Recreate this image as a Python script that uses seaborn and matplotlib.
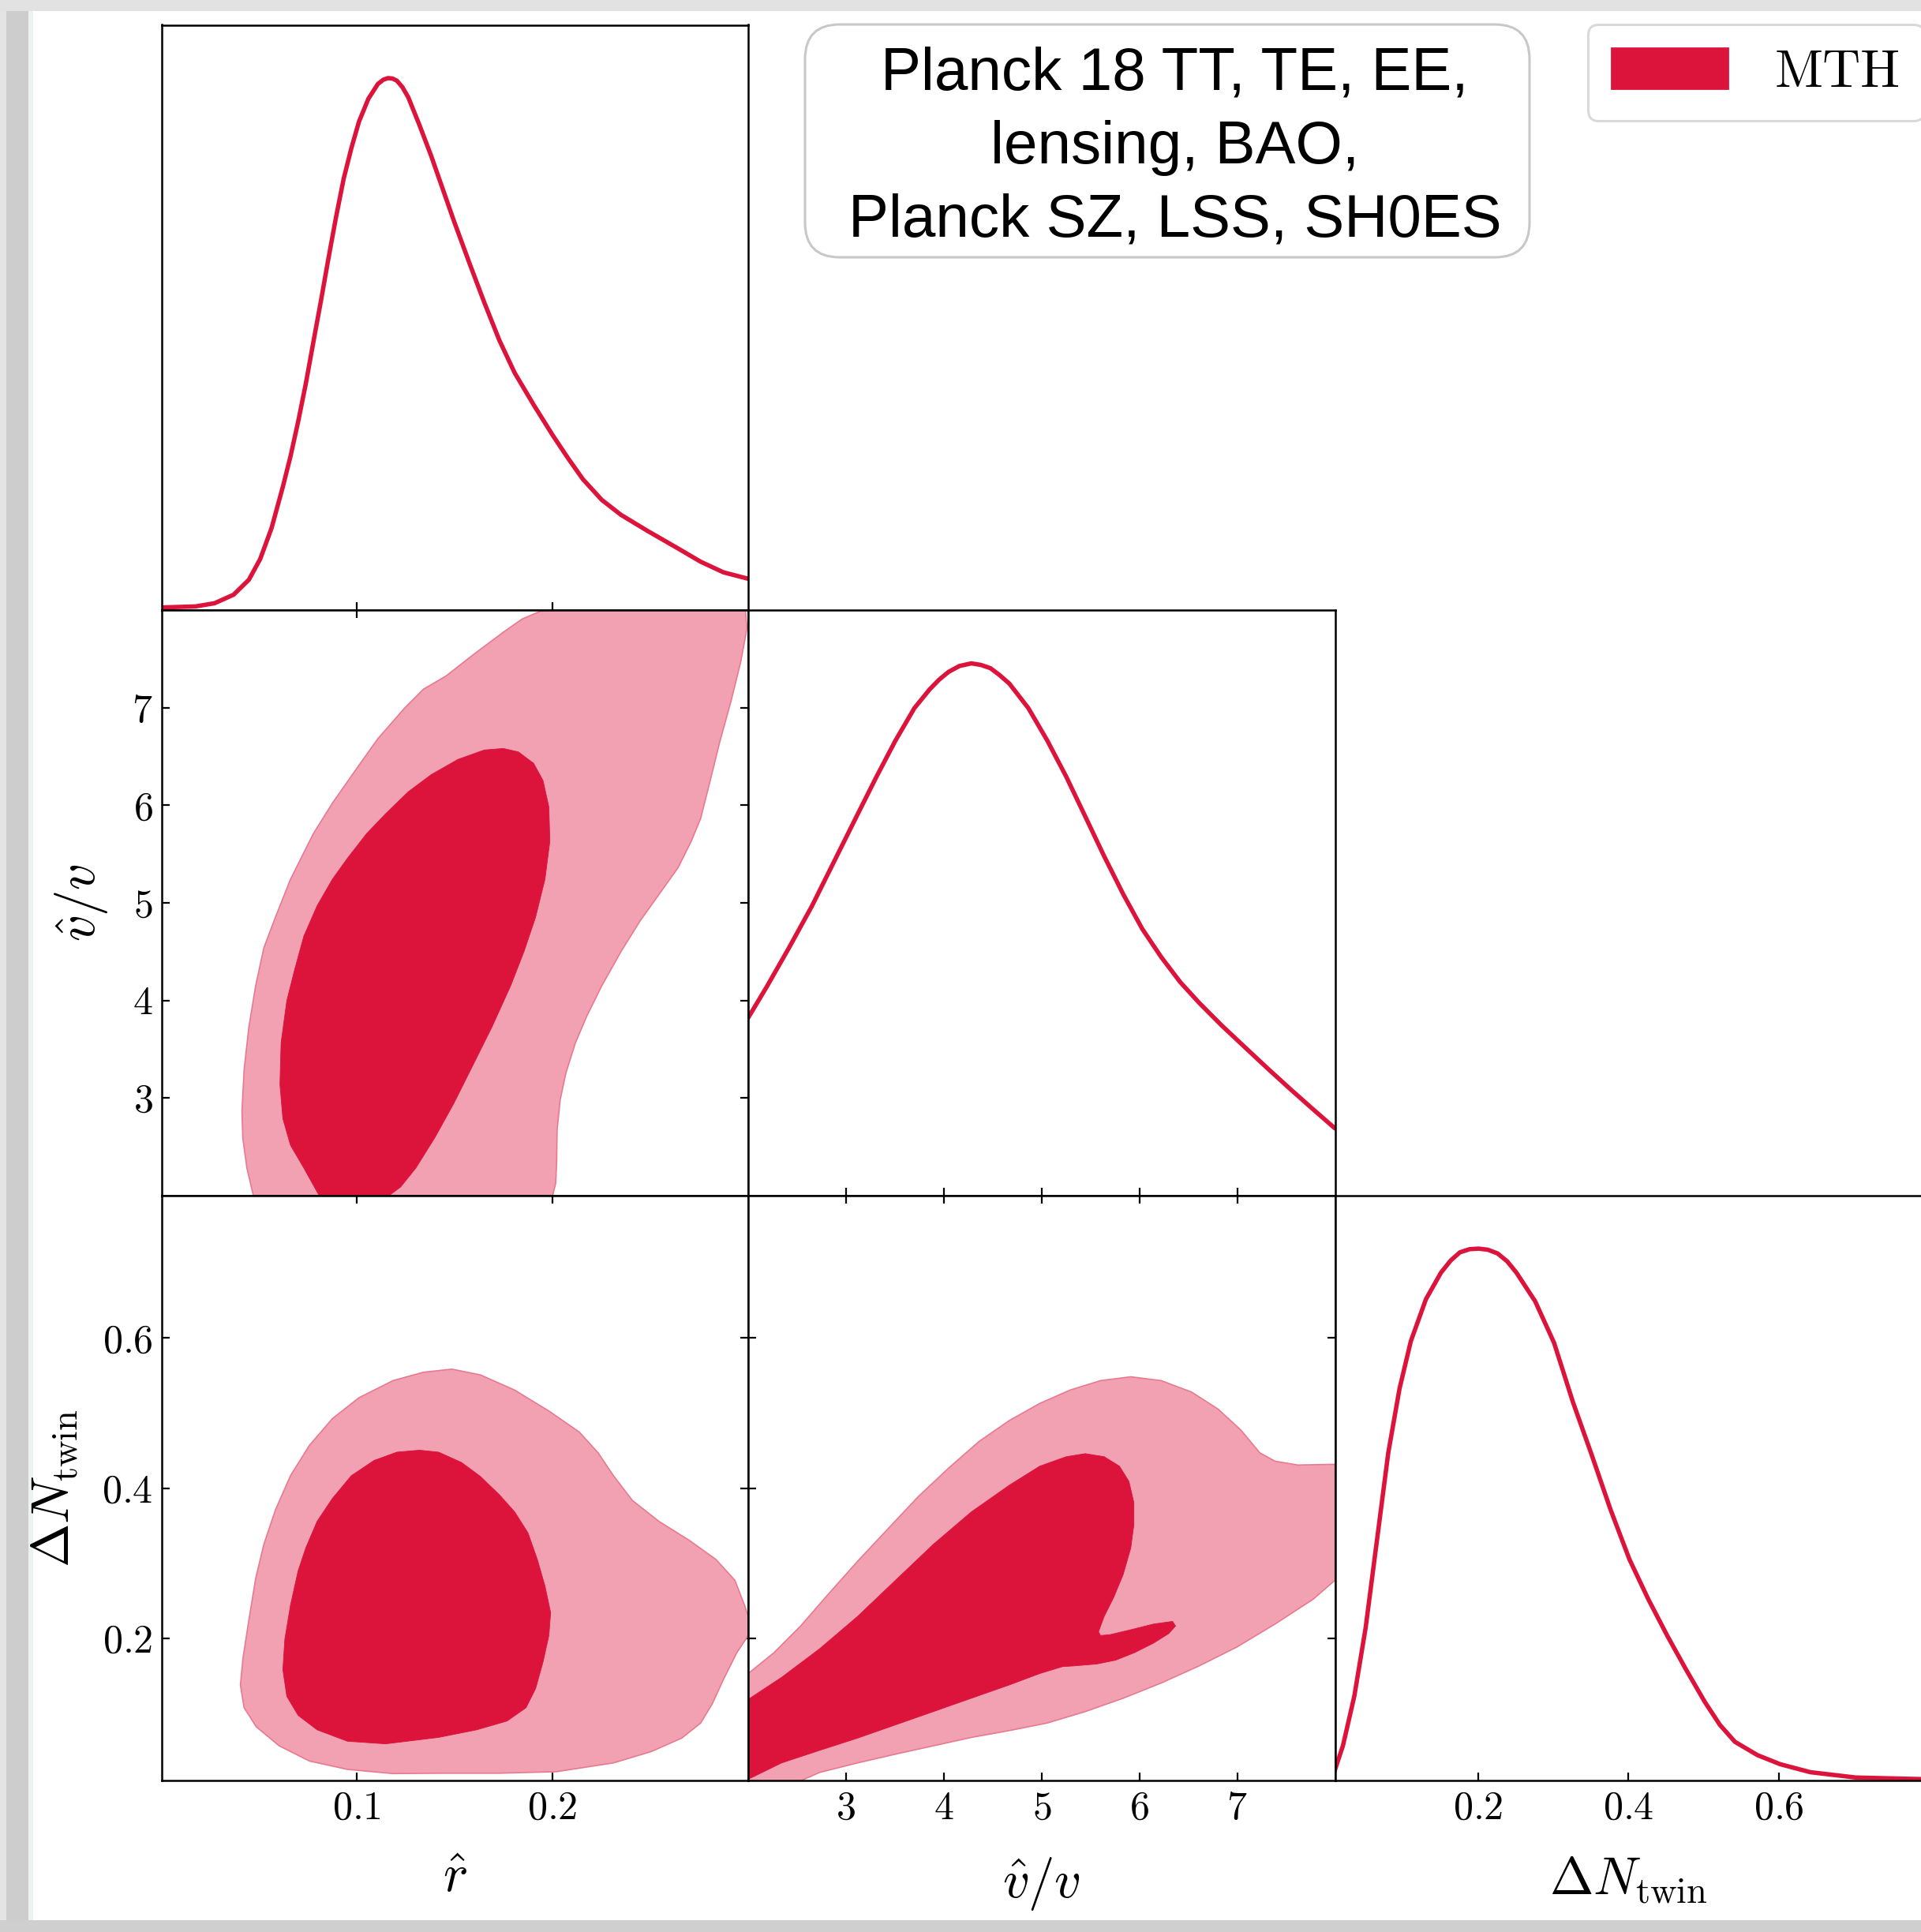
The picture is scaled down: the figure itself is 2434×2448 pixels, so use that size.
import numpy as np
import pandas as pd
import matplotlib
matplotlib.use("Agg")
import matplotlib.pyplot as plt
import seaborn as sns
from matplotlib.patches import FancyBboxPatch, Rectangle, Patch

# ---------------- data ----------------
# 1D marginal of r-hat
r_1d_x = [0.0, 0.0175, 0.0272, 0.0369, 0.0447, 0.0505, 0.0563, 0.0621, 0.0660, 0.0699,
          0.0738, 0.0777, 0.0816, 0.0854, 0.0893, 0.0932, 0.0971, 0.1010, 0.1058, 0.1107,
          0.1135, 0.1159, 0.1182, 0.1204, 0.1232, 0.1262, 0.1320, 0.1379, 0.1437, 0.1495,
          0.1573, 0.1650, 0.1728, 0.1806, 0.1903, 0.2000, 0.2078, 0.2155, 0.2252, 0.2350,
          0.2485, 0.2641, 0.2757, 0.2874, 0.3000]
r_1d_p = [0.005, 0.007, 0.013, 0.029, 0.057, 0.096, 0.154, 0.232, 0.289, 0.354,
          0.425, 0.504, 0.582, 0.661, 0.739, 0.811, 0.868, 0.918, 0.961, 0.989,
          0.997, 1.000, 0.999, 0.995, 0.983, 0.964, 0.911, 0.854, 0.793, 0.732,
          0.654, 0.579, 0.507, 0.446, 0.386, 0.329, 0.286, 0.246, 0.207, 0.179,
          0.149, 0.116, 0.091, 0.071, 0.059]

# 1D marginal of v-hat/v
v_1d_x = [2.000, 2.186, 2.419, 2.652, 2.885, 3.118, 3.312, 3.506, 3.700, 3.855,
          3.950, 4.049, 4.160, 4.282, 4.380, 4.476, 4.570, 4.670, 4.864, 5.058,
          5.252, 5.447, 5.641, 5.835, 6.029, 6.223, 6.417, 6.611, 6.844, 7.076,
          7.309, 7.542, 7.775, 8.000]
v_1d_p = [0.334, 0.391, 0.466, 0.544, 0.630, 0.716, 0.787, 0.855, 0.916, 0.951,
          0.969, 0.984, 0.995, 1.000, 0.997, 0.991, 0.978, 0.962, 0.916, 0.855,
          0.787, 0.712, 0.637, 0.566, 0.501, 0.448, 0.401, 0.362, 0.319, 0.279,
          0.239, 0.200, 0.162, 0.126]

# 1D marginal of Delta N_twin
n_1d_x = [0.0096, 0.0206, 0.0357, 0.0507, 0.0657, 0.0808, 0.0958, 0.1108, 0.1309, 0.1509,
          0.1640, 0.1760, 0.1890, 0.2010, 0.2130, 0.2261, 0.2390, 0.2511, 0.2761, 0.3012,
          0.3262, 0.3513, 0.3764, 0.4014, 0.4265, 0.4515, 0.4766, 0.5016, 0.5216, 0.5417,
          0.5717, 0.6018, 0.6419, 0.7020, 0.7900]
n_1d_p = [0.019, 0.066, 0.159, 0.287, 0.451, 0.616, 0.737, 0.826, 0.905, 0.955,
          0.978, 0.993, 0.999, 1.000, 0.998, 0.991, 0.976, 0.955, 0.901, 0.823,
          0.712, 0.612, 0.509, 0.416, 0.341, 0.273, 0.209, 0.148, 0.105, 0.073,
          0.048, 0.031, 0.016, 0.006, 0.003]

# 2D r-hat vs v-hat/v : 95% (outer) and 68% (inner) regions
rv_outer_r = [0.0470, 0.0437, 0.0416, 0.0412, 0.0423, 0.0447, 0.0482, 0.0524, 0.0583, 0.0660,
              0.0728, 0.0777, 0.0874, 0.1010, 0.1107, 0.1243, 0.1340, 0.1456, 0.1592, 0.1748,
              0.1845, 0.1942, 0.1980, 0.2986, 0.2994, 0.2961, 0.2913, 0.2854, 0.2806, 0.2757,
              0.2709, 0.2641, 0.2544, 0.2447, 0.2350, 0.2252, 0.2175, 0.2117, 0.2068, 0.2039,
              0.2023, 0.2021, 0.2016, 0.2000]
rv_outer_v = [2.000, 2.281, 2.592, 2.865, 3.293, 3.722, 4.151, 4.540, 4.852, 5.241,
              5.514, 5.709, 6.021, 6.410, 6.683, 6.995, 7.190, 7.326, 7.540, 7.774,
              7.910, 7.992, 8.000, 8.000, 7.813, 7.462, 7.073, 6.644, 6.254, 5.865,
              5.631, 5.358, 5.086, 4.813, 4.501, 4.151, 3.839, 3.566, 3.255, 2.982,
              2.670, 2.358, 2.125, 2.000]
rv_inner_r = [0.0806, 0.0728, 0.0660, 0.0621, 0.0606, 0.0612, 0.0641, 0.0680, 0.0728, 0.0796,
              0.0874, 0.0951, 0.1049, 0.1146, 0.1262, 0.1379, 0.1515, 0.1650, 0.1748, 0.1825,
              0.1903, 0.1951, 0.1981, 0.1986, 0.1961, 0.1913, 0.1854, 0.1786, 0.1689, 0.1592,
              0.1495, 0.1398, 0.1301, 0.1223, 0.1165]
rv_inner_v = [2.000, 2.281, 2.514, 2.787, 3.138, 3.566, 3.995, 4.306, 4.657, 4.969,
              5.241, 5.456, 5.709, 5.912, 6.138, 6.313, 6.469, 6.566, 6.582, 6.547,
              6.430, 6.254, 5.982, 5.631, 5.241, 4.852, 4.501, 4.151, 3.722, 3.332,
              2.943, 2.592, 2.281, 2.086, 2.000]

# 2D r-hat vs Delta N_twin
rn_outer_r = [0.0404, 0.0417, 0.0447, 0.0482, 0.0524, 0.0583, 0.0660, 0.0757, 0.0874, 0.1010,
              0.1184, 0.1340, 0.1485, 0.1631, 0.1806, 0.1981, 0.2136, 0.2233, 0.2311, 0.2408,
              0.2544, 0.2699, 0.2835, 0.2932, 0.2981, 0.3000, 0.3000, 0.2942, 0.2874, 0.2816,
              0.2757, 0.2660, 0.2505, 0.2311, 0.2019, 0.1728, 0.1437, 0.1184, 0.0951, 0.0757,
              0.0602, 0.0485, 0.0423]
rn_outer_n = [0.1376, 0.1731, 0.2238, 0.2796, 0.3252, 0.3709, 0.4165, 0.4570, 0.4925, 0.5204,
              0.5432, 0.5544, 0.5585, 0.5508, 0.5306, 0.5027, 0.4748, 0.4469, 0.4165, 0.3835,
              0.3556, 0.3303, 0.3049, 0.2771, 0.2441, 0.2290, 0.2035, 0.1807, 0.1452, 0.1123,
              0.0869, 0.0667, 0.0489, 0.0337, 0.0220, 0.0200, 0.0200, 0.0195, 0.0251, 0.0362,
              0.0565, 0.0819, 0.1072]
rn_inner_r = [0.0621, 0.0631, 0.0660, 0.0699, 0.0738, 0.0796, 0.0874, 0.0971, 0.1087, 0.1204,
              0.1320, 0.1417, 0.1534, 0.1631, 0.1728, 0.1806, 0.1874, 0.1922, 0.1961, 0.1990,
              0.1981, 0.1951, 0.1913, 0.1864, 0.1767, 0.1612, 0.1417, 0.1146, 0.0951, 0.0796,
              0.0699, 0.0641]
rn_inner_n = [0.1579, 0.1985, 0.2441, 0.2897, 0.3202, 0.3556, 0.3861, 0.4165, 0.4368, 0.4479,
              0.4505, 0.4479, 0.4342, 0.4155, 0.3911, 0.3683, 0.3404, 0.3049, 0.2695, 0.2340,
              0.2035, 0.1681, 0.1326, 0.1072, 0.0895, 0.0778, 0.0677, 0.0591, 0.0626, 0.0778,
              0.0971, 0.1224]

# 2D v-hat/v vs Delta N_twin
vn_outer_v = [2.000, 2.264, 2.536, 2.807, 3.118, 3.428, 3.739, 4.049, 4.360, 4.670,
              4.981, 5.291, 5.602, 5.912, 6.223, 6.533, 6.805, 7.038, 7.232, 7.387,
              7.620, 8.000, 8.000, 7.775, 7.387, 6.999, 6.611, 6.223, 5.834, 5.446,
              5.058, 4.670, 4.282, 3.894, 3.506, 3.118, 2.730, 2.536, 2.000]
vn_outer_n = [0.1528, 0.1807, 0.2162, 0.2568, 0.3024, 0.3455, 0.3886, 0.4266, 0.4621, 0.4900,
              0.5128, 0.5306, 0.5432, 0.5483, 0.5432, 0.5280, 0.5052, 0.4773, 0.4469, 0.4358,
              0.4307, 0.4317, 0.2771, 0.2517, 0.2188, 0.1883, 0.1630, 0.1402, 0.1199, 0.1021,
              0.0869, 0.0768, 0.0677, 0.0565, 0.0454, 0.0337, 0.0210, 0.0099, 0.0099]
vn_inner_v = [2.000, 2.342, 2.730, 3.118, 3.506, 3.894, 4.282, 4.670, 4.981, 5.252,
              5.446, 5.640, 5.796, 5.893, 5.943, 5.943, 5.912, 5.834, 5.737, 5.640,
              5.582, 5.602, 5.699, 5.912, 6.145, 6.339, 6.370, 6.300, 6.145, 5.951,
              5.757, 5.563, 5.330, 5.213, 4.981, 4.670, 4.282, 3.894, 3.506, 3.118,
              2.730, 2.342, 2.000]
vn_inner_n = [0.1184, 0.1478, 0.1858, 0.2289, 0.2771, 0.3252, 0.3683, 0.4038, 0.4292, 0.4418,
              0.4459, 0.4418, 0.4292, 0.4089, 0.3810, 0.3506, 0.3202, 0.2847, 0.2542, 0.2289,
              0.2086, 0.2035, 0.2046, 0.2112, 0.2188, 0.2223, 0.2162, 0.2061, 0.1934, 0.1807,
              0.1706, 0.1655, 0.1630, 0.1620, 0.1528, 0.1376, 0.1199, 0.1021, 0.0844, 0.0667,
              0.0504, 0.0337, 0.0119]

param_labels = [r"$\hat{r}$", r"$\hat{v}/v$", r"$\Delta N_{\rm twin}$"]
param_limits = [(0.0, 0.3), (2.0, 8.0), (0.01, 0.79)]
param_ticks = [[0.1, 0.2], [3, 4, 5, 6, 7], [0.2, 0.4, 0.6]]
param_ticklabels = [[r"$0.1$", r"$0.2$"],
                    [r"$3$", r"$4$", r"$5$", r"$6$", r"$7$"],
                    [r"$0.2$", r"$0.4$", r"$0.6$"]]
legend_label = "MTH"
data_text = "Planck 18 TT, TE, EE,\nlensing, BAO,\nPlanck SZ, LSS, SH0ES"

# ---------------- style ----------------
sns.set_style("ticks")
plt.rcParams.update({
    "font.family": "serif",
    "font.serif": ["cmr10", "DejaVu Serif"],
    "mathtext.fontset": "cm",
    "axes.unicode_minus": False,
    "axes.linewidth": 0.9,
    "axes.edgecolor": "black",
    "axes.labelcolor": "black",
    "text.color": "black",
    "xtick.color": "black",
    "ytick.color": "black",
    "axes.formatter.use_mathtext": True,
})

CRIMSON = "#DC143C"
LIGHT = "#F1A1B1"
LIGHT_EDGE = "#E87A90"

W, H, DPI = 2434, 2448, 200
fig = plt.figure(figsize=(W / DPI, H / DPI), dpi=DPI, facecolor="white")

# screenshot-like border
fig.patches.append(Rectangle((0, 0), 8 / W, 1, transform=fig.transFigure,
                             facecolor="#e4e4e4", edgecolor="none", zorder=-10))
fig.patches.append(Rectangle((8 / W, 0), 28 / W, 1, transform=fig.transFigure,
                             facecolor="#cdcdcd", edgecolor="none", zorder=-10))
fig.patches.append(Rectangle((36 / W, 0), 6 / W, 1, transform=fig.transFigure,
                             facecolor="#eef1f1", edgecolor="none", zorder=-9))
fig.patches.append(Rectangle((0, 1 - 14 / H), 1, 14 / H, transform=fig.transFigure,
                             facecolor="#e2e2e2", edgecolor="none", zorder=-9))
fig.patches.append(Rectangle((0, 0), 1, 15 / H, transform=fig.transFigure,
                             facecolor="#cfcfcf", edgecolor="none", zorder=-9))

LEFT, COLW = 204.5, 743.5
TOP, ROWH = 31.5, 741.6


def make_ax(r, c):
    x0 = (LEFT + c * COLW) / W
    y0 = 1 - (TOP + (r + 1) * ROWH) / H
    return fig.add_axes([x0, y0, COLW / W, ROWH / H])


TICK_FS = 18
LABEL_FS = 24

one_d = [(r_1d_x, r_1d_p), (v_1d_x, v_1d_p), (n_1d_x, n_1d_p)]
two_d = {
    (1, 0): [(rv_outer_r, rv_outer_v), (rv_inner_r, rv_inner_v)],
    (2, 0): [(rn_outer_r, rn_outer_n), (rn_inner_r, rn_inner_n)],
    (2, 1): [(vn_outer_v, vn_outer_n), (vn_inner_v, vn_inner_n)],
}

for i in range(3):
    for j in range(i + 1):
        ax = make_ax(i, j)
        ax.set_facecolor("white")
        for s in ax.spines.values():
            s.set_linewidth(0.9)
            s.set_color("black")
        if i == j:
            df = pd.DataFrame({"x": one_d[i][0], "p": one_d[i][1]})
            sns.lineplot(data=df, x="x", y="p", ax=ax, color=CRIMSON, lw=2.0,
                         solid_joinstyle="round", solid_capstyle="round")
            ax.set_xlim(*param_limits[i])
            ax.set_ylim(0, 1.1)
            ax.set_yticks([])
            ax.set_xticks(param_ticks[i])
            ax.tick_params(axis="x", direction="in", length=3.5, width=0.8,
                           top=False, bottom=True, labelsize=TICK_FS, pad=4.5)
            ax.tick_params(axis="y", left=False, right=False)
        else:
            (ox, oy), (ix, iy) = two_d[(i, j)]
            ax.fill(ox, oy, facecolor=LIGHT, edgecolor=LIGHT_EDGE, lw=0.6, zorder=1)
            ax.fill(ix, iy, facecolor=CRIMSON, edgecolor=CRIMSON, lw=0.3, zorder=2)
            ax.set_xlim(*param_limits[j])
            ax.set_ylim(*param_limits[i])
            ax.set_xticks(param_ticks[j])
            ax.set_yticks(param_ticks[i])
            ax.tick_params(axis="both", direction="in", length=3.5, width=0.8,
                           top=True, right=True, bottom=True, left=True,
                           labelsize=TICK_FS)
            ax.tick_params(axis="x", pad=4.5)
            ax.tick_params(axis="y", pad=4)
        ax.set_xlabel("")
        ax.set_ylabel("")
        if i == 2:
            ax.set_xticklabels(param_ticklabels[j])
            ax.set_xlabel(param_labels[j], fontsize=LABEL_FS, labelpad=13)
        else:
            ax.set_xticklabels([])
        if j == 0 and i > 0:
            ax.set_yticklabels(param_ticklabels[i])
            ax.set_ylabel(param_labels[i], fontsize=LABEL_FS, labelpad=10)
        elif i != j:
            ax.set_yticklabels([])

# data-combination text box
bx0, bx1 = 1020 / W, 1938 / W
by1, by0 = 1 - 31 / H, 1 - 326 / H
fig.patches.append(FancyBboxPatch((bx0, by0), bx1 - bx0, by1 - by0,
                                  boxstyle="round,pad=0,rounding_size=0.018",
                                  transform=fig.transFigure, facecolor="white",
                                  edgecolor="#c8c8c8", lw=1.1, zorder=5))
fig.text((bx0 + bx1) / 2 + 0.004, (by0 + by1) / 2 - 0.0035, data_text,
         ha="center", va="center", multialignment="center", color="black",
         fontsize=27.5, family="Liberation Sans", linespacing=1.4, zorder=6)

# legend
leg = fig.legend(handles=[Patch(facecolor=CRIMSON, edgecolor=CRIMSON)],
                 labels=[legend_label], loc="upper left",
                 bbox_to_anchor=(2012 / W, 1 - 31 / H),
                 bbox_transform=fig.transFigure,
                 fontsize=24, handlelength=2.2, handleheight=0.8,
                 handletextpad=0.9, borderpad=0.45, borderaxespad=0,
                 frameon=True, fancybox=True)
leg.get_frame().set_edgecolor("#d0d0d0")
leg.get_frame().set_linewidth(1.1)

fig.savefig("out.png", dpi=DPI, facecolor=fig.get_facecolor())
